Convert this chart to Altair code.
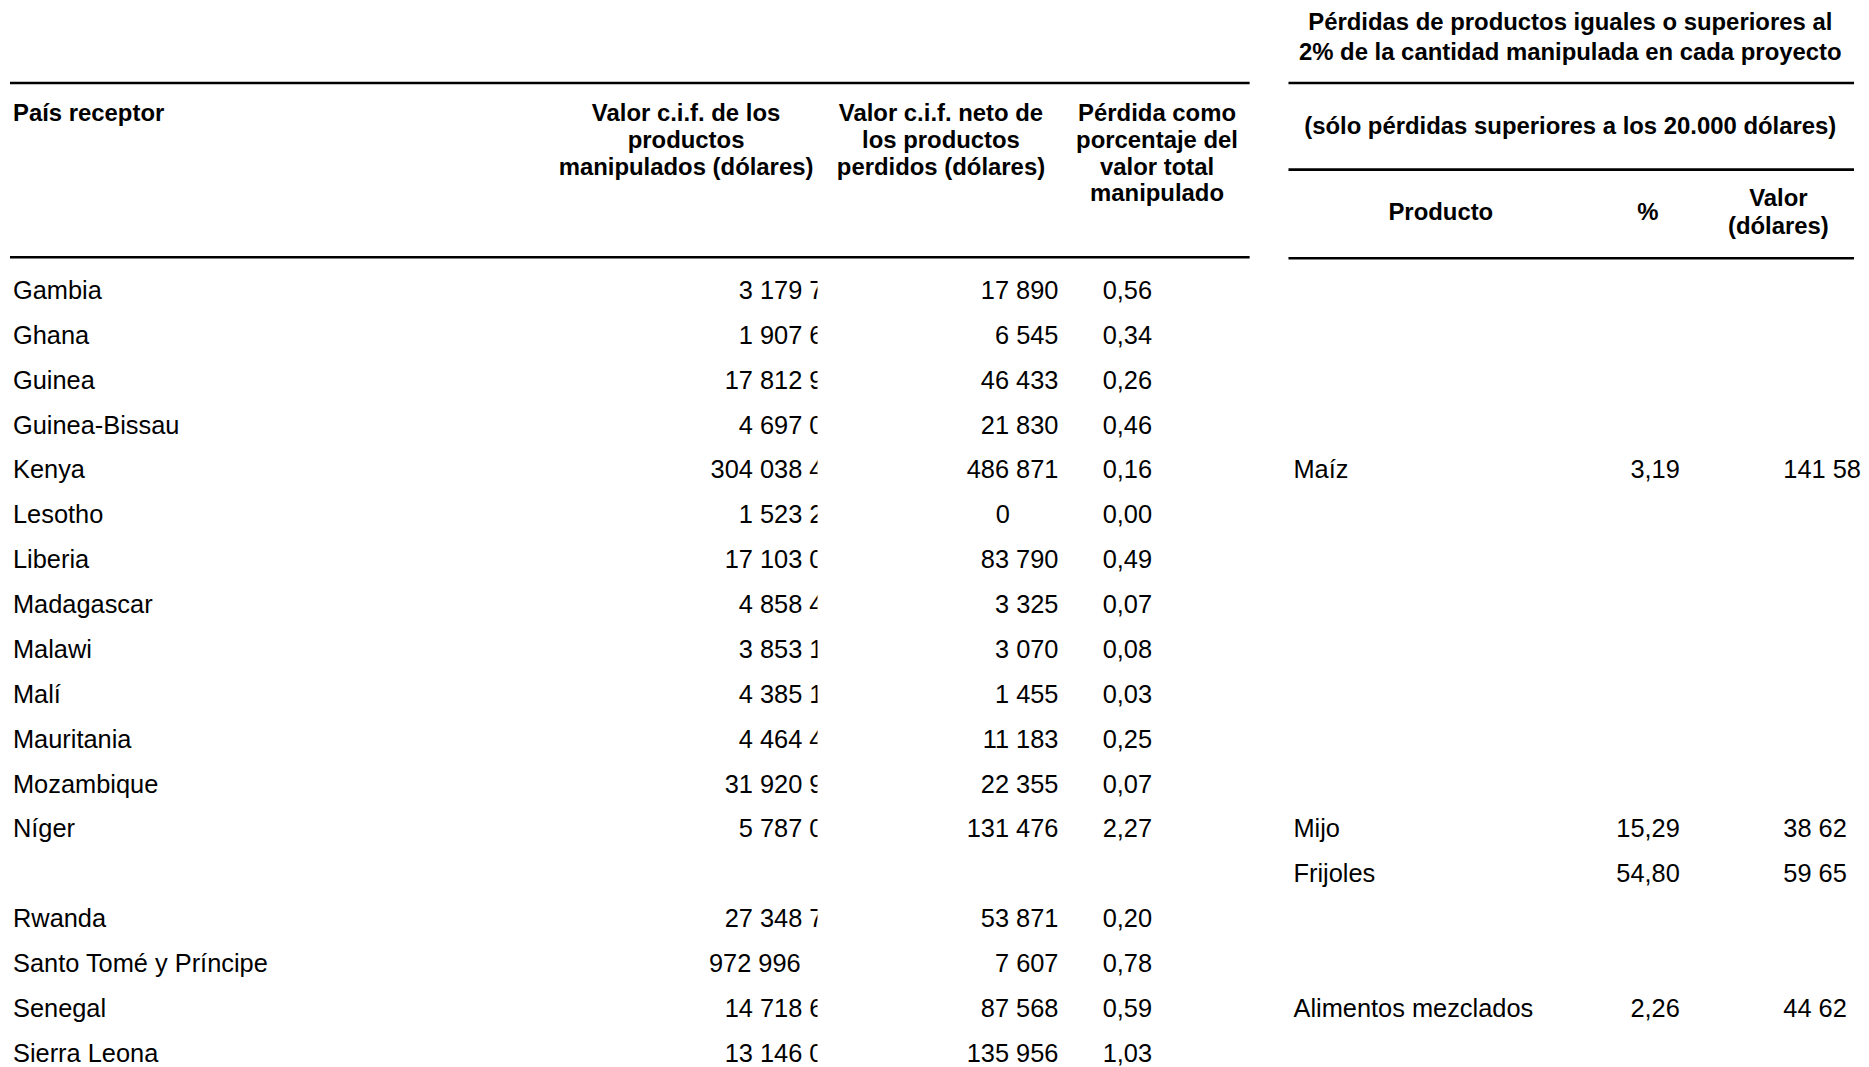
import altair as alt
import pandas as pd

# ---------------- data ----------------
countries = ["Gambia", "Ghana", "Guinea", "Guinea-Bissau", "Kenya", "Lesotho",
             "Liberia", "Madagascar", "Malawi", "Malí", "Mauritania",
             "Mozambique", "Níger", "", "Rwanda", "Santo Tomé y Príncipe",
             "Senegal", "Sierra Leona"]
cif_values = ["3 179 7", "1 907 6", "17 812 9", "4 697 0", "304 038 4",
              "1 523 2", "17 103 0", "4 858 4", "3 853 1", "4 385 1",
              "4 464 4", "31 920 9", "5 787 0", "", "27 348 7", "972 996",
              "14 718 6", "13 146 0"]
cif_is_text_cell = [False] * 15 + [True] + [False] * 2
loss_values = ["17 890", "6 545", "46 433", "21 830", "486 871", "0",
               "83 790", "3 325", "3 070", "1 455", "11 183", "22 355",
               "131 476", "", "53 871", "7 607", "87 568", "135 956"]
loss_pct = ["0,56", "0,34", "0,26", "0,46", "0,16", "0,00", "0,49", "0,07",
            "0,08", "0,03", "0,25", "0,07", "2,27", "", "0,20", "0,78",
            "0,59", "1,03"]
products = ["", "", "", "", "Maíz", "", "", "", "", "", "", "", "Mijo",
            "Frijoles", "", "", "Alimentos mezclados", ""]
product_pct = ["", "", "", "", "3,19", "", "", "", "", "", "", "", "15,29",
               "54,80", "", "", "2,26", ""]
product_value = ["", "", "", "", "141 58", "", "", "", "", "", "", "",
                 "38 62", "59 65", "", "", "44 62", ""]

df = pd.DataFrame({
    "row": list(range(len(countries))),
    "country": countries,
    "cif": cif_values,
    "cif_text": cif_is_text_cell,
    "loss": loss_values,
    "pct": loss_pct,
    "product": products,
    "ppct": product_pct,
    "pval": product_value,
})

# ---------------- layout ----------------
M = 8  # page margin
W, H = 1869 - M, 1067 - M
FONT = "Liberation Sans"
BODY = 25.5
HEAD = 24


def X(px):
    return alt.value(px - M)


row_y = alt.Y("row:Q", axis=None,
              scale=alt.Scale(domain=[0, 17], range=[290 - M, 1056 - M]))

base = alt.Chart(df)


def body(field, x, align, filt=None):
    ch = base
    if filt is not None:
        ch = ch.transform_filter(filt)
    return ch.mark_text(align=align, baseline="middle", font=FONT,
                        fontSize=BODY, color="black").encode(
        x=X(x), y=row_y, text=f"{field}:N")


layers = [
    body("country", 13, "left", "datum.country !== ''"),
    body("cif", 827, "right", "datum.cif !== '' && !datum.cif_text"),
    body("cif", 712, "left", "datum.cif !== '' && datum.cif_text"),
    body("loss", 1063, "right", "datum.loss !== '' && datum.loss !== '0'"),
    body("loss", 1007, "center", "datum.loss === '0'"),
    body("pct", 1157, "right", "datum.pct !== ''"),
    body("product", 1299, "left", "datum.product !== ''"),
    body("ppct", 1687, "right", "datum.ppct !== ''"),
    body("pval", 1791, "left", "datum.pval !== ''"),
]

one = pd.DataFrame({"k": [0]})

# white mask that clips the first value column like the original cells
layers.append(
    alt.Chart(one).mark_rect(color="white").encode(
        x=X(821), x2=X(862), y=alt.value(262 - M), y2=alt.value(H)))

# rules
rules = [(10, 1255, 81), (10, 1255, 256),
         (1294, 1862, 81), (1294, 1862, 168), (1294, 1862, 257)]
for x1, x2, yy in rules:
    layers.append(
        alt.Chart(one).mark_rule(color="black", strokeWidth=2.6).encode(
            x=X(x1), x2=X(x2), y=alt.value(yy - M)))

# headers: (text, x, baseline y, align)
headers = [
    ("País receptor", 13, 119, "left"),
    ("Valor c.i.f. de los", 689, 119, "center"),
    ("productos", 689, 146, "center"),
    ("manipulados (dólares)", 689, 173, "center"),
    ("Valor c.i.f. neto de", 945, 119, "center"),
    ("los productos", 945, 146, "center"),
    ("perdidos (dólares)", 945, 173, "center"),
    ("Pérdida como", 1162, 119, "center"),
    ("porcentaje del", 1162, 146, "center"),
    ("valor total", 1162, 173, "center"),
    ("manipulado", 1162, 200, "center"),
    ("Pérdidas de productos iguales o superiores al", 1577, 28, "center"),
    ("2% de la cantidad manipulada en cada proyecto", 1577, 58, "center"),
    ("(sólo pérdidas superiores a los 20.000 dólares)", 1577, 132, "center"),
    ("Producto", 1447, 219, "center"),
    ("%", 1655, 219, "center"),
    ("Valor", 1786, 205, "center"),
    ("(dólares)", 1786, 233, "center"),
]
for txt, hx, hy, al in headers:
    layers.append(
        alt.Chart(one).mark_text(text=txt, align=al, baseline="alphabetic",
                                 font=FONT, fontSize=HEAD, fontWeight="bold",
                                 color="black").encode(
            x=X(hx), y=alt.value(hy - M)))

chart = alt.layer(*layers).properties(
    width=W, height=H, padding=0, background="white",
    autosize=alt.AutoSizeParams(type="none"),
).configure_view(stroke=None)

chart.save("out.html", embed_options={"renderer": "svg", "actions": False})
